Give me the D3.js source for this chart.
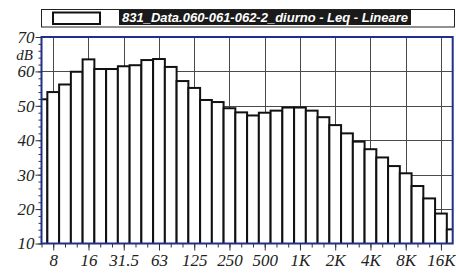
<!DOCTYPE html>
<html>
<head>
<meta charset="utf-8">
<script src="https://cdn.jsdelivr.net/npm/d3@7"></script>
<style>
  body { margin: 0; background: #fff; }
  svg { display: block; }
  .axis text { font-family: 'Liberation Serif', serif; font-style: italic; fill: #222; }
  .axis path { display: none; }
  .axis line { stroke: #333; }
</style>
</head>
<body>
<div id="chart"></div>
<script>
  // third-octave bands, 6.3 Hz .. 20 kHz
  var bands = ['6.3', '8', '10', '12.5', '16', '20', '25', '31.5', '40', '50', '63', '80',
    '100', '125', '160', '200', '250', '315', '400', '500', '630', '800',
    '1K', '1.25K', '1.6K', '2K', '2.5K', '3.15K', '4K', '5K', '6.3K', '8K', '10K', '12.5K', '16K', '20K']
  var leq = [51.9, 54.0, 56.2, 59.9, 63.5, 60.7, 60.7, 61.5, 61.8, 63.3, 63.6, 61.3,
    57.2, 55.2, 51.7, 51.1, 49.3, 48.1, 47.2, 48.0, 48.6, 49.5,
    49.5, 48.6, 46.7, 44.4, 42.0, 39.6, 37.4, 35.0, 32.5, 30.4, 26.7, 23.1, 18.7, 14.1]
  var octaveLabels = ['8', '16', '31.5', '63', '125', '250', '500', '1K', '2K', '4K', '8K', '16K']
  var yTicks = [10, 20, 30, 40, 50, 60, 70]
  var legendText = '831_Data.060-061-062-2_diurno - Leq - Lineare'

  ;(function() {
    var width = 456, height = 277
    var plotL = 41.5, plotR = 452.7, plotT = 37, plotB = 243.5

    var svg = d3.select('#chart').append('svg')
      .attr('width', width)
      .attr('height', height)

    var x = d3.scaleLinear().domain([0, bands.length - 1]).range([plotL, plotR])
    var y = d3.scaleLinear().domain([10, 70]).range([plotB, plotT])

    var majorIdx = octaveLabels.map(function(l) { return bands.indexOf(l) })

    // grid
    var grid = svg.append('g').attr('stroke', '#4a4a4a').attr('stroke-width', 1)
    grid.selectAll('.gy').data(yTicks.slice(1, -1)).enter().append('line')
      .attr('x1', plotL).attr('x2', plotR)
      .attr('y1', function(d) { return Math.round(y(d)) + 0.5 })
      .attr('y2', function(d) { return Math.round(y(d)) + 0.5 })
    grid.selectAll('.gx').data(majorIdx).enter().append('line')
      .attr('y1', plotT).attr('y2', plotB)
      .attr('x1', function(d) { return Math.round(x(d)) + 0.5 })
      .attr('x2', function(d) { return Math.round(x(d)) + 0.5 })

    // bars
    svg.append('clipPath').attr('id', 'plot-clip')
      .append('rect').attr('x', plotL).attr('y', plotT).attr('width', plotR - plotL).attr('height', plotB - plotT)

    svg.append('g').attr('clip-path', 'url(#plot-clip)')
      .selectAll('rect').data(leq).enter().append('rect')
      .attr('x', function(d, i) { return x(i - 0.5) })
      .attr('width', x(1) - x(0))
      .attr('y', function(d) { return y(d) })
      .attr('height', function(d) { return plotB - y(d) + 2 })
      .attr('fill', '#fff')
      .attr('stroke', '#111')
      .attr('stroke-width', 2)

    // frame
    svg.append('rect')
      .attr('x', plotL).attr('y', plotT).attr('width', plotR - plotL).attr('height', plotB - plotT)
      .attr('fill', 'none').attr('stroke', '#1f2f8f').attr('stroke-width', 2)

    // y axis
    svg.append('g').attr('class', 'axis')
      .attr('transform', 'translate(' + plotL + ',0)')
      .call(d3.axisLeft(y).tickValues(d3.range(10, 71, 2)).tickSize(3).tickFormat(''))
    svg.append('g').attr('class', 'axis')
      .attr('transform', 'translate(' + plotL + ',0)')
      .call(d3.axisLeft(y).tickValues(yTicks).tickSize(6).tickPadding(1))
      .selectAll('text').style('font-size', '17px')
    svg.append('text')
      .attr('x', 33).attr('y', 59.5)
      .attr('text-anchor', 'end')
      .style('font-family', "'Liberation Serif', serif").style('font-style', 'italic')
      .style('font-size', '15px').attr('fill', '#222')
      .text('dB')

    // x axis
    svg.append('g').attr('class', 'axis')
      .attr('transform', 'translate(0,' + plotB + ')')
      .call(d3.axisBottom(x).tickValues(d3.range(0, bands.length - 1)).tickSize(4).tickFormat(''))
    svg.append('g').attr('class', 'axis')
      .attr('transform', 'translate(0,' + plotB + ')')
      .call(d3.axisBottom(x).tickValues(majorIdx).tickSize(7).tickPadding(3)
        .tickFormat(function(d) { return bands[d] }))
      .selectAll('text').style('font-size', '17px')

    // legend
    var legend = svg.append('g')
    legend.append('rect')
      .attr('x', 41.5).attr('y', 9.5).attr('width', 413).attr('height', 17.5)
      .attr('fill', '#fff').attr('stroke', '#222').attr('stroke-width', 1)
    legend.append('rect')
      .attr('x', 53).attr('y', 12.5).attr('width', 47).attr('height', 11.5)
      .attr('fill', '#fff').attr('stroke', '#111').attr('stroke-width', 2)
    legend.append('rect')
      .attr('x', 119).attr('y', 10).attr('width', 292).attr('height', 15)
      .attr('fill', '#1a1a1a')
    legend.append('text')
      .attr('x', 122).attr('y', 22)
      .attr('textLength', 286).attr('lengthAdjust', 'spacingAndGlyphs')
      .style('font-family', "'Liberation Sans', sans-serif")
      .style('font-weight', 'bold').style('font-style', 'italic')
      .style('font-size', '12px').attr('fill', '#fff')
      .text(legendText)
  })()
</script>
</body>
</html>
